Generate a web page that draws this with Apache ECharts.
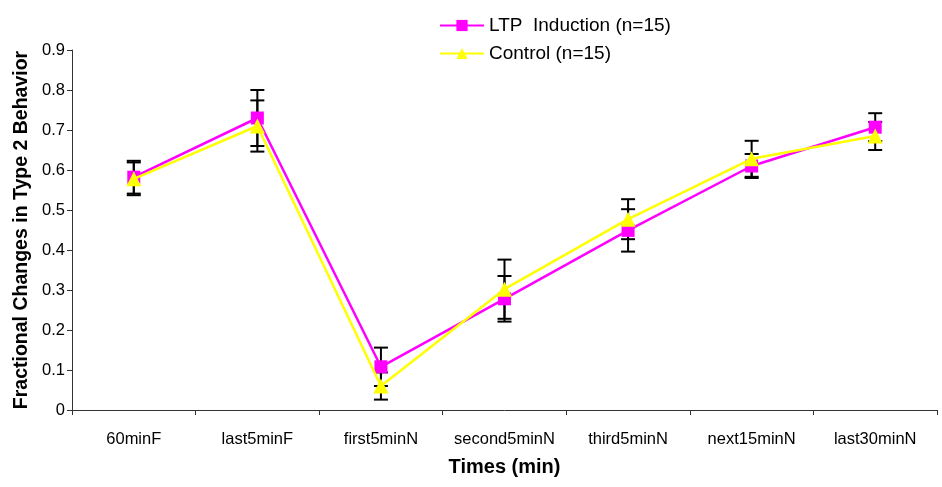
<!DOCTYPE html>
<html>
<head>
<meta charset="utf-8">
<title>Fractional Changes in Type 2 Behavior</title>
<script src="https://cdn.jsdelivr.net/npm/echarts@6/dist/echarts.min.js"></script>
<style>
  html, body { margin: 0; padding: 0; background: #fff; }
  #chart { width: 942px; height: 487px; }
</style>
</head>
<body>
<div id="chart"></div>
<script>
// categories and values
const categories = ['60minF', 'last5minF', 'first5minN', 'second5minN', 'third5minN', 'next15minN', 'last30minN'];
const ltpMean = [0.582, 0.730, 0.108, 0.278, 0.449, 0.610, 0.707];
const ltpErr = [0.041, 0.070, 0.048, 0.057, 0.053, 0.030, 0.035];
const ctlMean = [0.578, 0.710, 0.060, 0.302, 0.477, 0.628, 0.685];
const ctlErr = [0.041, 0.064, 0.034, 0.074, 0.050, 0.045, 0.035];
const yTicks = [0, 0.1, 0.2, 0.3, 0.4, 0.5, 0.6, 0.7, 0.8, 0.9];

const FONT = '"Liberation Sans", Arial, sans-serif';

const errData = (mean, err) => mean.map((m, i) => [i, m - err[i], m + err[i]]);

// draws a vertical bar with caps through the axis scales
const renderErr = (params, api) => {
  const lo = api.coord([api.value(0), api.value(1)]);
  const hi = api.coord([api.value(0), api.value(2)]);
  const w = 7;
  const style = { stroke: '#000', lineWidth: 2 };
  return {
    type: 'group',
    children: [
      { type: 'line', shape: { x1: lo[0], y1: lo[1], x2: hi[0], y2: hi[1] }, style },
      { type: 'line', shape: { x1: hi[0] - w, y1: hi[1], x2: hi[0] + w, y2: hi[1] }, style },
      { type: 'line', shape: { x1: lo[0] - w, y1: lo[1], x2: lo[0] + w, y2: lo[1] }, style },
    ],
  };
};

const myChart = echarts.init(document.getElementById('chart'), null, { renderer: 'canvas' });

const option = {
  backgroundColor: '#fff',
  animation: false,
  textStyle: { fontFamily: FONT, color: '#000' },
  legend: {
    orient: 'vertical',
    left: 434,
    top: 11,
    itemWidth: 44,
    itemHeight: 14,
    itemGap: 9,
    textStyle: { fontFamily: FONT, fontSize: 19, color: '#000' },
    data: ['LTP  Induction (n=15)', 'Control (n=15)'],
  },
  grid: { left: 72, right: 5, top: 50, bottom: 77, containLabel: false },
  xAxis: {
    type: 'category',
    data: categories,
    boundaryGap: true,
    name: 'Times (min)',
    nameLocation: 'middle',
    nameGap: 47,
    nameTextStyle: { fontFamily: FONT, fontSize: 20, fontWeight: 'bold', color: '#000' },
    axisLine: { lineStyle: { color: '#333', width: 1 } },
    axisTick: { show: true, interval: 0, length: 5, lineStyle: { color: '#333' } },
    axisLabel: { interval: 0, fontSize: 16.5, color: '#000', margin: 21 },
    splitLine: { show: false },
  },
  yAxis: {
    type: 'value',
    min: yTicks[0],
    max: yTicks[yTicks.length - 1],
    interval: 0.1,
    name: 'Fractional Changes in Type 2 Behavior',
    nameLocation: 'middle',
    nameGap: 40,
    nameTextStyle: { fontFamily: FONT, fontSize: 19.5, fontWeight: 'bold', color: '#000' },
    axisLine: { show: true, lineStyle: { color: '#333', width: 1 } },
    axisTick: { show: true, length: 5, lineStyle: { color: '#333' } },
    axisLabel: { fontSize: 16.5, color: '#000', margin: 7, formatter: (v) => String(Math.round(v * 10) / 10) },
    splitLine: { show: false },
  },
  series: [
    {
      type: 'custom',
      name: 'ltpErr',
      renderItem: renderErr,
      encode: { x: 0, y: [1, 2] },
      data: errData(ltpMean, ltpErr),
      z: 1,
      silent: true,
    },
    {
      type: 'custom',
      name: 'ctlErr',
      renderItem: renderErr,
      encode: { x: 0, y: [1, 2] },
      data: errData(ctlMean, ctlErr),
      z: 1,
      silent: true,
    },
    {
      name: 'LTP  Induction (n=15)',
      type: 'line',
      data: ltpMean,
      symbol: 'rect',
      symbolSize: 13,
      color: '#ff00ff',
      lineStyle: { color: '#ff00ff', width: 2.5 },
      itemStyle: { color: '#ff00ff' },
      z: 3,
    },
    {
      name: 'Control (n=15)',
      type: 'line',
      data: ctlMean,
      symbol: 'triangle',
      symbolSize: 15,
      color: '#ffff00',
      lineStyle: { color: '#ffff00', width: 2.5 },
      itemStyle: { color: '#ffff00' },
      z: 4,
    },
  ],
};

myChart.setOption(option);
</script>
</body>
</html>
